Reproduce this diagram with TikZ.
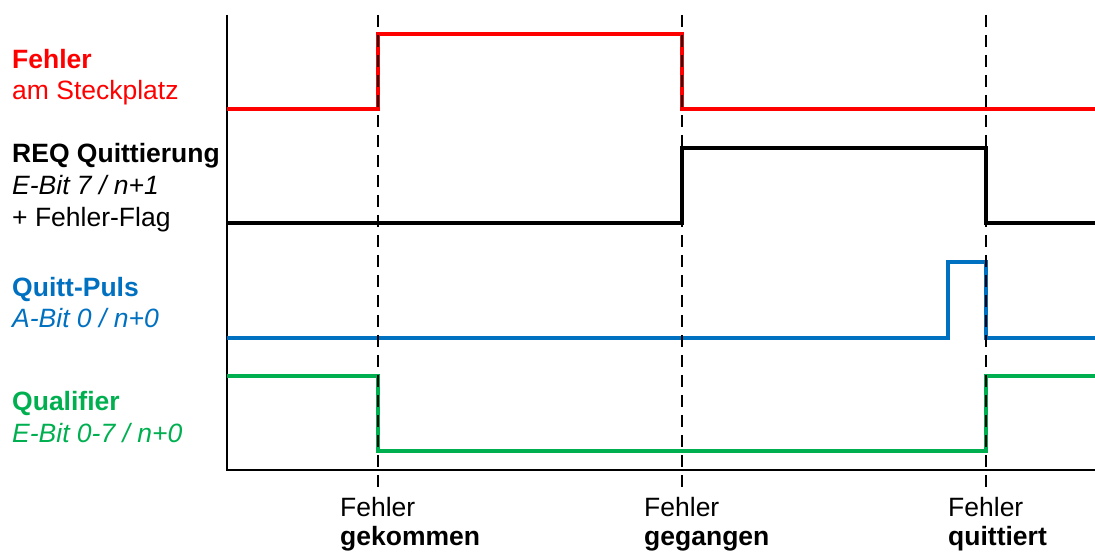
\documentclass[tikz,border=0pt]{standalone}
\usepackage{fontspec}
\usepackage{xcolor}
\usepackage{tikz}
\setmainfont{Liberation Sans}
\definecolor{sigred}{RGB}{255,0,0}
\definecolor{sigblue}{RGB}{0,112,192}
\definecolor{siggreen}{RGB}{0,176,80}
\newcommand{\lblsize}{\fontsize{26.5}{31}\selectfont}
\tikzset{
  lbl/.style={anchor=base west, inner sep=0pt, font=\lblsize},
  lblbf/.style={lbl, font=\lblsize\bfseries},
  lblit/.style={lbl, font=\lblsize\itshape},
  sig/.style={line width=3.6pt, line join=miter},
  marker/.style={line width=1.6pt, dash pattern=on 12pt off 8pt},
}

\begin{document}
\begin{tikzpicture}[x=1pt, y=1pt]
    \useasboundingbox (0, 0) rectangle (1095, 554);

    % axes
    \draw[line width=2.4pt] (227, 539) -- (227, 84) -- (1095, 84);

    % signals
    \draw[sig, sigred] (227, 445) -- (378, 445) -- (378, 520) -- (682, 520) -- (682, 445) -- (1095, 445);
    \draw[sig, black] (227, 331) -- (682, 331) -- (682, 406) -- (986, 406) -- (986, 331) -- (1095, 331);
    \draw[sig, sigblue] (227, 216) -- (948, 216) -- (948, 292) -- (986, 292) -- (986, 216) -- (1095, 216);
    \draw[sig, siggreen] (227, 178) -- (378, 178) -- (378, 103) -- (986, 103) -- (986, 178) -- (1095, 178);

    % event markers
    \foreach \t/\what in {378/gekommen, 682/gegangen, 986/quittiert} {
        \draw[marker] (\t, 539) -- (\t, 66);
        \node[lbl] (f\what) at (\t-38, 37) {Fehler};
        \node[lblbf] (e\what) at (\t-38, 8) {\what};
    }

    % signal names
    \node[lblbf, sigred] (fehler) at (12, 485) {Fehler};
    \node[lbl, sigred] (steckplatz) at (12, 454) {am Steckplatz};

    \node[lblbf] (req) at (12, 391) {REQ Quittierung};
    \node[lblit] (reqbit) at (12, 359) {E-Bit 7 / n+1};
    \node[lbl] (reqflag) at (12, 327) {+ Fehler-Flag};

    \node[lblbf, sigblue] (puls) at (12, 257) {Quitt-Puls};
    \node[lblit, sigblue] (pulsbit) at (12, 226) {A-Bit 0 / n+0};

    \node[lblbf, siggreen] (qual) at (12, 143) {Qualifier};
    \node[lblit, siggreen] (qualbit) at (12, 111) {E-Bit 0-7 / n+0};
\end{tikzpicture}
\end{document}
